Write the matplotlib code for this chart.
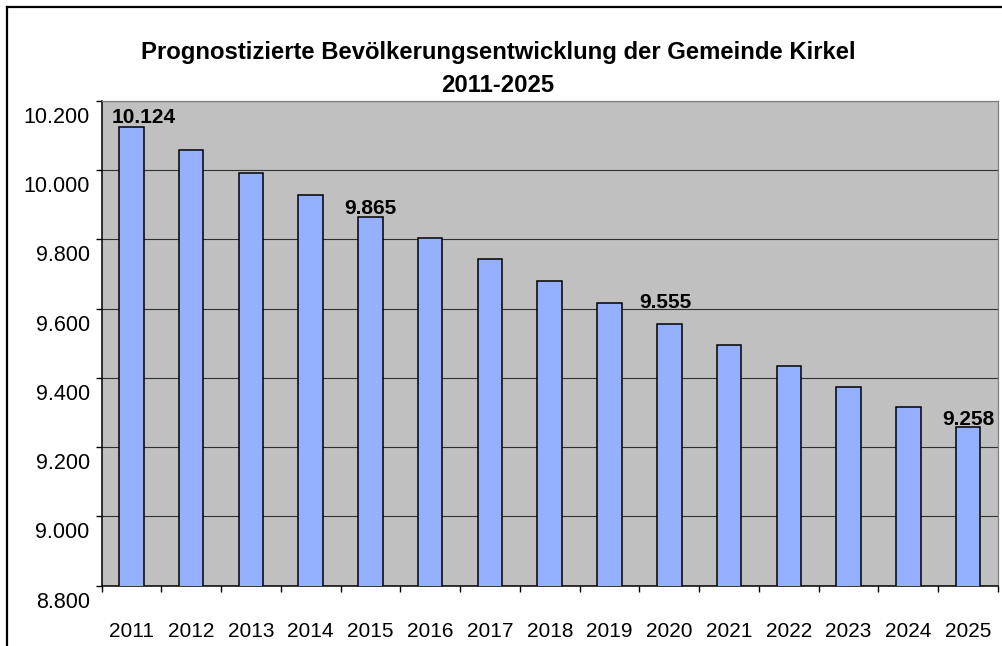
import matplotlib
matplotlib.use("Agg")
import matplotlib.pyplot as plt
from matplotlib.lines import Line2D
from matplotlib.ticker import FixedLocator, FuncFormatter
from matplotlib.transforms import ScaledTranslation

# ---------------- data ----------------
years = ["2011", "2012", "2013", "2014", "2015", "2016", "2017", "2018",
         "2019", "2020", "2021", "2022", "2023", "2024", "2025"]
population = [10124, 10059, 9991, 9928, 9865, 9803, 9743, 9681,
              9617, 9555, 9495, 9433, 9374, 9316, 9258]
labeled_years = ["2011", "2015", "2020", "2025"]
title_lines = ["Prognostizierte Bevölkerungsentwicklung der Gemeinde Kirkel",
               "2011-2025"]
y_ticks = [8800, 9000, 9200, 9400, 9600, 9800, 10000, 10200]

# ---------------- style ----------------
plt.rcParams['font.family'] = ['Liberation Sans', 'DejaVu Sans']
W, H, DPI = 1002, 646, 100
fig = plt.figure(figsize=(W / DPI, H / DPI), dpi=DPI, facecolor='white')

ax_left, ax_right, ax_top, ax_bottom = 101.5, 998.0, 101.0, 585.5
ax = fig.add_axes([ax_left / W, 1 - ax_bottom / H,
                   (ax_right - ax_left) / W, (ax_bottom - ax_top) / H])
ax.set_facecolor('#C0C0C0')

x = list(range(len(years)))
ax.bar(x, population, width=0.41, color='#94B0FF', edgecolor='black',
       linewidth=1.1, zorder=3)

ax.set_xlim(-0.5, len(years) - 0.5)
ax.set_ylim(y_ticks[0], y_ticks[-1])
ax.yaxis.set_major_locator(FixedLocator(y_ticks))
ax.yaxis.set_major_formatter(FuncFormatter(lambda v, p: f"{int(v):,}".replace(",", ".")))
ax.grid(axis='y', color='#303030', linewidth=0.8, zorder=1)
ax.set_axisbelow(True)

# x ticks: marks at category boundaries, labels at centers
ax.set_xticks([i - 0.5 for i in range(len(years) + 1)])
ax.set_xticklabels([])
ax.set_xticks(x, minor=True)
ax.set_xticklabels(years, minor=True)
ax.tick_params(axis='x', which='major', length=4.5, width=1.0, color='black', direction='out')
ax.tick_params(axis='x', which='minor', length=0, pad=26, labelsize=15)
ax.tick_params(axis='y', length=4.5, width=1.0, direction='out', pad=4, labelsize=15.5)

# y tick labels sit slightly below their gridlines (as in the original)
shift = ScaledTranslation(0, -14 / DPI, fig.dpi_scale_trans)
for tick in ax.yaxis.get_major_ticks():
    tick.label1.set_transform(tick.label1.get_transform() + shift)

for side in ('left', 'bottom'):
    ax.spines[side].set_color('black')
    ax.spines[side].set_linewidth(1.1)
for side in ('top', 'right'):
    ax.spines[side].set_color('#808080')
    ax.spines[side].set_linewidth(0.9)

# data labels (offsets in points: dx, dy above bar top to baseline)
label_offsets = {"2011": (8.5, 3.4), "2015": (0, 2.0), "2020": (-2.6, 12.0), "2025": (0, 1.4)}
for yr in labeled_years:
    i = years.index(yr)
    v = population[i]
    dx, dy = label_offsets[yr]
    ax.annotate(f"{v:,}".replace(",", "."), xy=(i, v), xytext=(dx, dy),
                textcoords='offset points', ha='center', va='baseline',
                fontsize=15, fontweight='bold', zorder=5)

# title
title_baselines = [59.5, 92.5]
for line, yb in zip(title_lines, title_baselines):
    fig.text(498 / W, 1 - yb / H, line, ha='center', va='baseline',
             fontsize=17.2, fontweight='bold')

# outer chart frame (cut at right/bottom edges)
fig.add_artist(Line2D([7 / W, 7 / W], [0, 1 - 7 / H], transform=fig.transFigure,
                      color='black', linewidth=1.6))
fig.add_artist(Line2D([7 / W, 1], [1 - 7 / H, 1 - 7 / H], transform=fig.transFigure,
                      color='black', linewidth=1.6))

fig.savefig("out.png", dpi=DPI, facecolor='white')
